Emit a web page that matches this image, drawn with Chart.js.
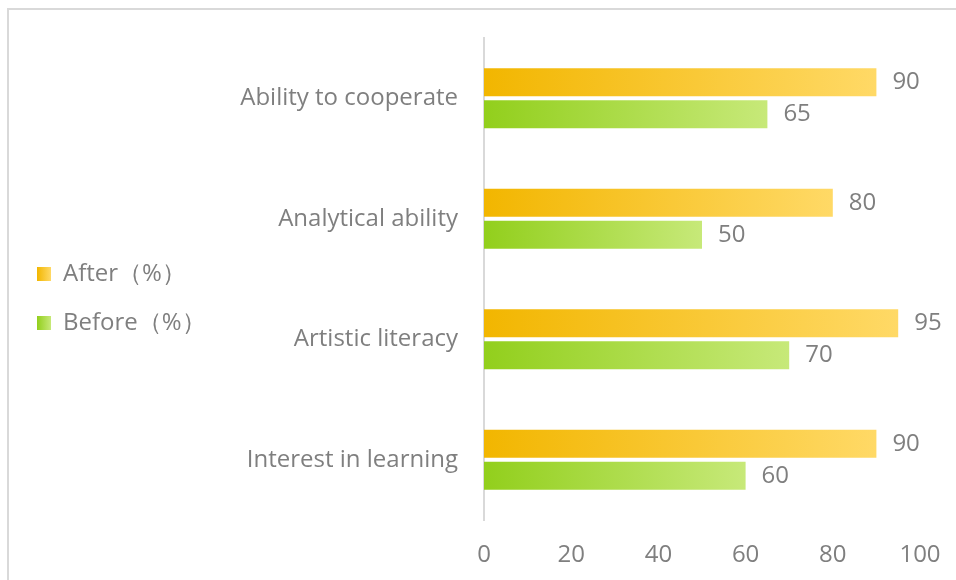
<!DOCTYPE html>
<html>
<head>
<meta charset="utf-8">
<script src="https://cdn.jsdelivr.net/npm/chart.js@4"></script>
<style>
  html, body { margin: 0; padding: 0; background: #fff; }
  .frame { position: absolute; left: 7px; top: 8px; width: 1000px; height: 600px; border-left: 2px solid #d9d9d9; border-top: 2px solid #d9d9d9; }
  .wrap { position: absolute; left: 0; top: 0; width: 956px; height: 580px; }
</style>
</head>
<body>
<div class="frame"></div>
<div class="wrap"><canvas id="chart" width="956" height="580"></canvas></div>
<script>
const categories = ['Ability to cooperate', 'Analytical ability', 'Artistic literacy', 'Interest in learning'];
const afterValues = [90, 80, 95, 90];
const beforeValues = [65, 50, 70, 60];
const seriesNames = ['After（%）', 'Before（%）'];
const xTicks = [0, 20, 40, 60, 80, 100];

const textColor = '#7f7f7f';
const fontFamily = '"Open Sans", "Noto Sans", sans-serif';
const fontSize = 24;

// gradient that runs along each bar, from its base to its tip
const barGradient = (from, to) => (context) => {
    const chart = context.chart;
    const x = chart.scales.x;
    if (!x || context.type !== 'data') return from;
    const start = x.getPixelForValue(0);
    const end = x.getPixelForValue(context.raw);
    if (!isFinite(start) || !isFinite(end) || end === start) return from;
    const g = chart.ctx.createLinearGradient(start, 0, end, 0);
    g.addColorStop(0, from);
    g.addColorStop(1, to);
    return g;
};

const colors = [['#f2b600', '#ffd966'], ['#92cf1c', '#c7e979']];

// value labels at the end of every bar
const valueLabels = {
    id: 'valueLabels',
    afterDatasetsDraw(chart) {
        const ctx = chart.ctx;
        ctx.save();
        ctx.font = fontSize + 'px ' + fontFamily;
        ctx.fillStyle = textColor;
        ctx.textAlign = 'left';
        ctx.textBaseline = 'middle';
        chart.data.datasets.forEach((ds, i) => {
            chart.getDatasetMeta(i).data.forEach((bar, j) => {
                ctx.fillText(ds.data[j], bar.x + 16, bar.y);
            });
        });
        ctx.restore();
    }
};

// legend sits a little above the middle, and its swatches get the bar gradient
const legendTweaks = {
    id: 'legendTweaks',
    afterLayout(chart) {
        const lg = chart.legend;
        if (!lg) return;
        lg.top -= 8;
        lg.bottom -= 8;
    },
    beforeDraw(chart) {
        const lg = chart.legend;
        if (!lg || !lg.legendHitBoxes) return;
        lg.legendItems.forEach((item, i) => {
            const box = lg.legendHitBoxes[i];
            if (!box) return;
            const g = chart.ctx.createLinearGradient(box.left, 0, box.left + 14, 0);
            g.addColorStop(0, colors[i][0]);
            g.addColorStop(1, colors[i][1]);
            item.fillStyle = g;
        });
    }
};

new Chart(document.getElementById('chart'), {
    type: 'bar',
    data: {
        labels: categories,
        datasets: [
            { label: seriesNames[0], data: afterValues, backgroundColor: barGradient(colors[0][0], colors[0][1]) },
            { label: seriesNames[1], data: beforeValues, backgroundColor: barGradient(colors[1][0], colors[1][1]) }
        ]
    },
    options: {
        indexAxis: 'y',
        responsive: false,
        animation: false,
        categoryPercentage: 0.53,
        barPercentage: 0.88,
        layout: { padding: { left: 12, right: 20, top: 33, bottom: 0 } },
        plugins: {
            legend: {
                position: 'left',
                align: 'center',
                labels: {
                    boxWidth: 14, boxHeight: 14, padding: 25,
                    color: textColor,
                    font: { size: fontSize, family: fontFamily }
                }
            },
            tooltip: { enabled: false }
        },
        scales: {
            x: {
                min: 0, max: 100,
                afterBuildTicks: (scale) => { scale.ticks = xTicks.map(v => ({ value: v })); },
                grid: { display: false, drawTicks: false },
                border: { display: false },
                ticks: { color: textColor, padding: 21, font: { size: fontSize, family: fontFamily } },
                afterFit: (scale) => {
                    scale.height = 60;
                    scale.paddingRight = 36;
                    scale.paddingLeft = 0;
                }
            },
            y: {
                grid: { display: false, drawTicks: false },
                border: { display: true, color: '#d9d9d9', width: 2 },
                ticks: { color: textColor, padding: 26, font: { size: fontSize, family: fontFamily } },
                afterFit: (scale) => {
                    const lg = scale.chart.legend;
                    scale.width = 484 - 12 - (lg ? lg.width : 0);
                    scale.paddingTop = 38;
                    scale.paddingBottom = 0;
                }
            }
        }
    },
    plugins: [valueLabels, legendTweaks]
});
</script>
</body>
</html>
